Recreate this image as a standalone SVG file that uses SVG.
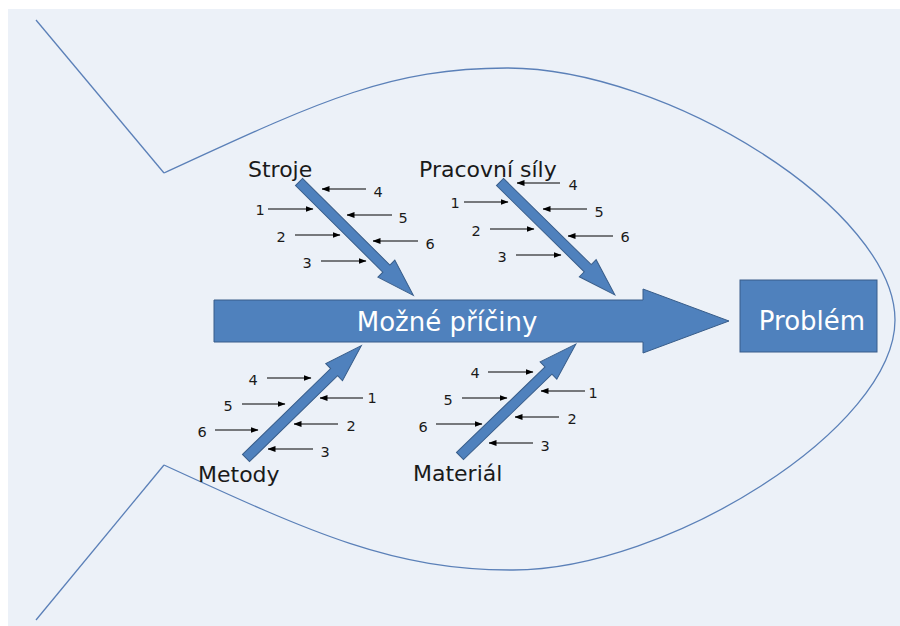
<svg xmlns="http://www.w3.org/2000/svg" width="900" height="626" viewBox="0 0 900 626">
  <defs>
    <style>
      .outline { fill: none; stroke: #5B80B8; stroke-width: 1.3; }
      .blue { fill: #4F81BD; stroke: #385D8A; stroke-width: 1; }
      .cause { font-family: "DejaVu Sans", Verdana, sans-serif; font-size: 22px; fill: #1a1a1a; }
      .num { font-family: "DejaVu Sans", Verdana, sans-serif; font-size: 14.5px; fill: #1a1a1a; text-anchor: middle; }
      .white { font-family: "DejaVu Sans", Verdana, sans-serif; font-size: 26px; fill: #ffffff; text-anchor: middle; }
      .sub line { stroke: #000000; stroke-width: 1; marker-end: url(#tip); }
    </style>
    <marker id="tip" viewBox="0 0 8 6" refX="7.5" refY="3" markerWidth="8" markerHeight="6" markerUnits="userSpaceOnUse" orient="auto">
      <path d="M0,0 L8,3 L0,6 Z" fill="#000000"/>
    </marker>
    <!-- bone arrow pointing along +x, tail at origin -->
    <path id="bone" d="M0,-5 H123 V-12 L161,0 L123,12 V5 H0 Z"/>
  </defs>

  <!-- background -->
  <rect x="8" y="9" width="892" height="617" fill="#ECF1F8"/>

  <!-- fish outline -->
  <g id="fish">
    <polyline class="outline" points="36,20 164,173"/>
    <polyline class="outline" points="164,465 36,620"/>
    <path class="outline" d="M164,173 C314,104 387,68 507,68 C667,68 895,210 895,320 C895,428 667,570 513,570 C393,570 314,534 164,465"/>
  </g>

  <!-- spine -->
  <g id="spine">
    <path class="blue" d="M214,300 H643 V289 L729,321 L643,353 V342 H214 Z"/>
    <text class="white" x="447" y="331">Možné příčiny</text>
  </g>

  <!-- head -->
  <g id="problem">
    <rect class="blue" x="740" y="280" width="137" height="72"/>
    <text class="white" x="812" y="330">Problém</text>
  </g>

  <!-- bones -->
  <g id="stroje">
    <use href="#bone" class="blue" transform="translate(299,182) rotate(44.75)"/>
    <text class="cause" x="248" y="177">Stroje</text>
  </g>
  <g id="pracovni-sily">
    <use href="#bone" class="blue" transform="translate(500,182) rotate(44.5)"/>
    <text class="cause" x="419" y="177">Pracovní síly</text>
  </g>
  <g id="metody">
    <use href="#bone" class="blue" transform="translate(246,458) rotate(-44.25)"/>
    <text class="cause" x="198" y="482">Metody</text>
  </g>
  <g id="material">
    <use href="#bone" class="blue" transform="translate(460,456) rotate(-44)"/>
    <text class="cause" x="413" y="481">Materiál</text>
  </g>

  <!-- sub-cause connectors -->
  <g id="connectors" class="sub">
    <!-- Stroje -->
    <line x1="366" y1="189" x2="322" y2="189"/>
    <line x1="268" y1="209" x2="313" y2="209"/>
    <line x1="392" y1="215" x2="347" y2="215"/>
    <line x1="295" y1="235" x2="340" y2="235"/>
    <line x1="418" y1="241" x2="373" y2="241"/>
    <line x1="321" y1="261" x2="366" y2="261"/>
    <!-- Pracovní síly -->
    <line x1="560" y1="183" x2="517" y2="183"/>
    <line x1="464" y1="202" x2="508" y2="202"/>
    <line x1="587" y1="209" x2="543" y2="209"/>
    <line x1="490" y1="229" x2="534" y2="229"/>
    <line x1="613" y1="236" x2="568" y2="236"/>
    <line x1="516" y1="255" x2="561" y2="255"/>
    <!-- Metody -->
    <line x1="267" y1="378" x2="311" y2="378"/>
    <line x1="363" y1="398" x2="320" y2="398"/>
    <line x1="242" y1="404" x2="285" y2="404"/>
    <line x1="338" y1="424" x2="294" y2="424"/>
    <line x1="215" y1="430" x2="258" y2="430"/>
    <line x1="313" y1="449" x2="268" y2="449"/>
    <!-- Materiál -->
    <line x1="488" y1="372" x2="533" y2="372"/>
    <line x1="585" y1="391" x2="541" y2="391"/>
    <line x1="462" y1="398" x2="507" y2="398"/>
    <line x1="559" y1="417" x2="515" y2="417"/>
    <line x1="436" y1="424" x2="482" y2="424"/>
    <line x1="533" y1="443" x2="489" y2="443"/>
  </g>

  <!-- sub-cause numbers -->
  <g id="numbers">
    <text class="num" x="378" y="197">4</text>
    <text class="num" x="260" y="215">1</text>
    <text class="num" x="403" y="223">5</text>
    <text class="num" x="281" y="242">2</text>
    <text class="num" x="430" y="249">6</text>
    <text class="num" x="307" y="268">3</text>

    <text class="num" x="573" y="190">4</text>
    <text class="num" x="455" y="208">1</text>
    <text class="num" x="599" y="217">5</text>
    <text class="num" x="476" y="236">2</text>
    <text class="num" x="625" y="242">6</text>
    <text class="num" x="502" y="262">3</text>

    <text class="num" x="253" y="385">4</text>
    <text class="num" x="372" y="403">1</text>
    <text class="num" x="228" y="411">5</text>
    <text class="num" x="351" y="431">2</text>
    <text class="num" x="202" y="437">6</text>
    <text class="num" x="325" y="457">3</text>

    <text class="num" x="475" y="378">4</text>
    <text class="num" x="593" y="398">1</text>
    <text class="num" x="448" y="405">5</text>
    <text class="num" x="572" y="424">2</text>
    <text class="num" x="423" y="432">6</text>
    <text class="num" x="545" y="451">3</text>
  </g>
</svg>
